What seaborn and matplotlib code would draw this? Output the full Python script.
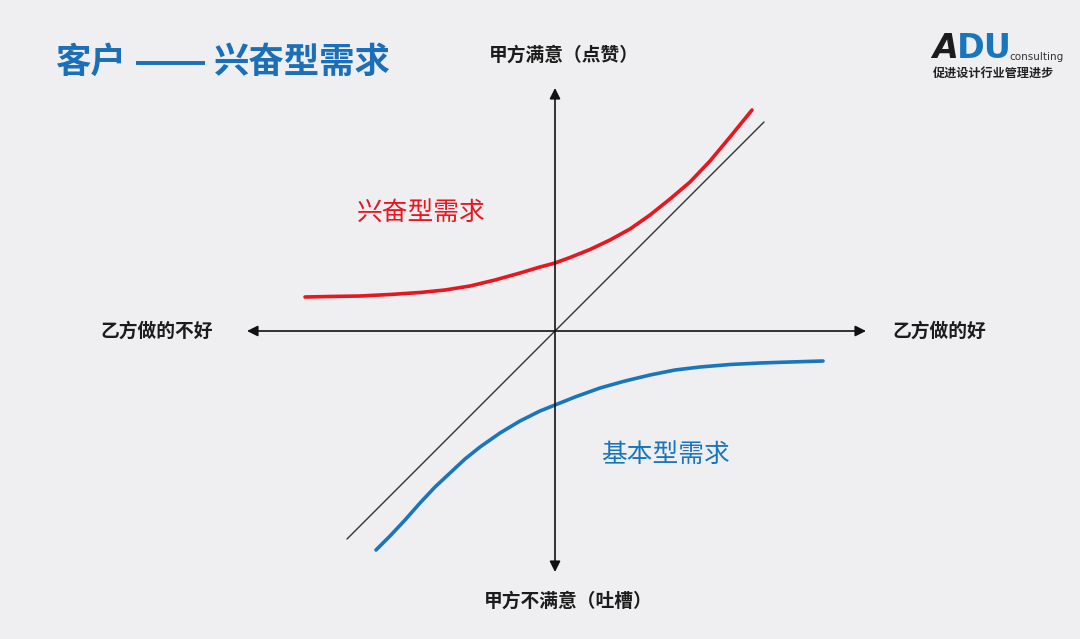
import seaborn as sns
import pandas as pd
import matplotlib.pyplot as plt
from matplotlib.lines import Line2D

# curve points: x = "乙方做的好" direction, y = "甲方满意" direction
excite_x = [-250, -225, -195, -165, -135, -110, -85, -60, -35, -15, 0, 15, 35, 55,
            75, 95, 115, 135, 155, 175, 197]
excite_y = [34, 34.5, 35, 36.5, 38.5, 41, 45, 51, 58, 64, 68, 73.5, 81.5, 91,
            102, 116, 132, 149, 170, 194, 221]

basic_x = [-179, -165, -150, -135, -120, -105, -90, -75, -55, -35, -15, 0, 20, 45,
           70, 95, 120, 145, 175, 205, 235, 268]
basic_y = [-219, -205, -189, -172, -156, -142, -128, -116, -102, -90, -80, -74, -66, -57,
           -50, -44, -39, -36, -33.5, -32, -31, -30]

diag_x = [-208, 209]
diag_y = [-208, 209]

title_left = '客户'
title_right = '兴奋型需求'
label_up = '甲方满意（点赞）'
label_down = '甲方不满意（吐槽）'
label_left = '乙方做的不好'
label_right = '乙方做的好'
excite_name = '兴奋型需求'
basic_name = '基本型需求'

sns.set_style('white')
plt.rcParams['font.family'] = ['Noto Sans CJK SC', 'DejaVu Sans']

bg = '#efeff1'
red = '#e8161e'
blue = '#1a76bc'
title_blue = '#1a6fb8'

fig = plt.figure(figsize=(10.8, 6.39), dpi=100, facecolor=bg)
ax = fig.add_axes([0, 0, 1, 1])
ax.set_facecolor(bg)

# axes with arrows
arrow = dict(arrowstyle='<|-|>', color='#111111', lw=1.2, mutation_scale=16,
             shrinkA=0, shrinkB=0)
ax.annotate('', xy=(311, 0), xytext=(-308, 0), arrowprops=arrow)
ax.annotate('', xy=(0, 243), xytext=(0, -241), arrowprops=arrow)

# 45 degree reference line
sns.lineplot(x=diag_x, y=diag_y, ax=ax, color='#333333', lw=1.0)

excite = pd.DataFrame({'x': excite_x, 'y': excite_y})
basic = pd.DataFrame({'x': basic_x, 'y': basic_y})
sns.lineplot(data=excite, x='x', y='y', ax=ax, color=red, lw=2.6)
sns.lineplot(data=basic, x='x', y='y', ax=ax, color=blue, lw=2.6)
ax.set_xlim(-555, 525)
ax.set_ylim(-308, 331)
ax.axis('off')

ax.text(-134, 118, excite_name, color=red, fontsize=18.5, ha='center', va='center')
ax.text(110, -124, basic_name, color=blue, fontsize=18.5, ha='center', va='center')

dark = '#1c1c1c'
ax.text(9, 276, label_up, color=dark, fontsize=13.5, fontweight='bold', ha='center', va='center')
ax.text(13, -270, label_down, color=dark, fontsize=13.5, fontweight='bold', ha='center', va='center')
ax.text(-342, 0, label_left, color=dark, fontsize=13.5, fontweight='bold', ha='right', va='center')
ax.text(337, 0, label_right, color=dark, fontsize=13.5, fontweight='bold', ha='left', va='center')

# title and logo (figure coords)
ty = 1 - 62 / 639
fig.text(55 / 1080, ty, title_left, color=title_blue, fontsize=25.5,
         fontweight='heavy', ha='left', va='center')
fig.add_artist(Line2D([136 / 1080, 205 / 1080], [1 - 63 / 639, 1 - 63 / 639],
                      color=title_blue, lw=2.8, solid_capstyle='butt'))
fig.text(214 / 1080, ty, title_right, color=title_blue, fontsize=25.5,
         fontweight='heavy', ha='left', va='center')

fig.text(932 / 1080, 1 - 49 / 639, 'A', color='#1b1b1b', fontsize=24,
         fontweight='heavy', fontstyle='italic', ha='left', va='center', family='DejaVu Sans')
fig.text(957 / 1080, 1 - 49 / 639, 'DU', color=blue, fontsize=24,
         fontweight='heavy', ha='left', va='center', family='DejaVu Sans')
fig.text(1009 / 1080, 1 - 57 / 639, 'consulting', color='#333333', fontsize=7.5,
         ha='left', va='center', family='DejaVu Sans')
fig.text(993 / 1080, 1 - 73 / 639, '促进设计行业管理进步', color='#222222', fontsize=8.7,
         fontweight='bold', ha='center', va='center')

fig.savefig('out.png', dpi=100, facecolor=bg)
